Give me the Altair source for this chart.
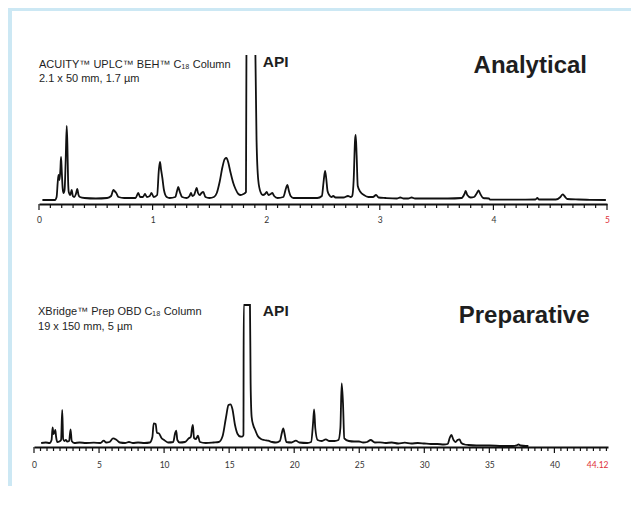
import altair as alt
import pandas as pd

# ---------------- data ----------------
# Analytical run: retention time (min) and detector signal (arbitrary units)
top_time = [0.03, 0.14, 0.155, 0.165, 0.172, 0.18, 0.188, 0.194, 0.200, 0.208, 0.215, 0.225, 0.235, 0.244,
            0.250, 0.256, 0.262, 0.275, 0.288, 0.298, 0.31, 0.325, 0.337, 0.348, 0.36, 0.40, 0.50, 0.60,
            0.635, 0.655, 0.665, 0.68, 0.70, 0.75, 0.85, 0.874, 0.89, 0.915, 0.933, 0.95, 0.975, 0.99,
            1.01, 1.04, 1.055, 1.065, 1.075, 1.086, 1.10, 1.124, 1.15, 1.20, 1.215, 1.226, 1.24, 1.26,
            1.30, 1.325, 1.338, 1.35, 1.365, 1.38, 1.388, 1.40, 1.415, 1.43, 1.446, 1.465, 1.50, 1.54,
            1.565, 1.59, 1.615, 1.635, 1.65, 1.665, 1.685, 1.71, 1.73, 1.755, 1.775, 1.80, 1.822, 1.826,
            1.865, 1.905, 1.915, 1.93, 1.95, 1.97, 1.99, 2.004, 2.02, 2.04, 2.054, 2.07, 2.10, 2.15,
            2.175, 2.186, 2.20, 2.215, 2.24, 2.35, 2.45, 2.49, 2.505, 2.518, 2.528, 2.54, 2.555, 2.575,
            2.59, 2.61, 2.68, 2.72, 2.745, 2.757, 2.77, 2.782, 2.788, 2.796, 2.806, 2.83, 2.86, 2.90,
            2.94, 2.967, 2.99, 3.05, 3.15, 3.18, 3.21, 3.25, 3.28, 3.31, 3.45, 3.60, 3.72, 3.745, 3.756,
            3.77, 3.80, 3.83, 3.855, 3.87, 3.885, 3.91, 3.96, 3.97, 4.20, 4.37, 4.387, 4.40, 4.55, 4.59,
            4.61, 4.625, 4.65, 4.75, 4.85, 4.99]
top_signal = [0, 0, 3, 18, 25, 20, 30, 43, 30, 12, 7, 10, 40, 74,
              55, 20, 8, 5, 10, 4, 3, 6, 11, 5, 3, 2, 1.5, 2,
              4, 10, 9, 7, 3, 2, 2, 7, 3, 3, 6, 3, 4, 7,
              3, 5, 30, 38, 30, 22, 10, 3, 2, 3, 9, 13, 8, 3,
              2, 4, 7, 4, 5, 10, 12, 7, 5, 7, 8, 3, 2, 3,
              7, 18, 33, 41, 42, 38, 28, 17, 11, 6, 5, 6, 8, 145,
              None, 145, 60, 20, 8, 5, 6, 8, 5, 6, 7, 4, 2, 3,
              12, 15, 9, 4, 2, 2, 2, 4, 18, 29, 22, 9, 5, 3,
              4, 2.5, 2.5, 4, 3, 4, 20, 60, 65, 45, 14, 8, 5, 3,
              3, 5, 2.5, 2, 1.5, 2.5, 1.5, 1.5, 2.5, 1.5, 1.5, 1.5, 2, 6, 9,
              5, 2.5, 3, 7, 9.5, 6, 2, 1.5, 0.3, 0.3, 0.5, 2, 0.5, 0.5, 3,
              5.7, 4, 1, 0.5, 0.2, 0]

# Preparative run
bottom_time = [0.55, 0.9, 1.2, 1.35, 1.43, 1.5, 1.58, 1.64, 1.7, 1.79, 1.95, 2.08, 2.17, 2.24, 2.35, 2.45,
               2.55, 2.7, 2.81, 2.9, 3.1, 3.5, 4.0, 4.6, 5.1, 5.36, 5.55, 5.8, 6.08, 6.35, 6.6, 7.0, 7.3,
               7.6, 8.0, 8.5, 8.9, 9.1, 9.2, 9.35, 9.45, 9.6, 9.8, 10.0, 10.3, 10.7, 10.85, 10.93, 11.02,
               11.2, 11.6, 11.9, 12.05, 12.15, 12.21, 12.3, 12.45, 12.6, 12.75, 13.2, 13.8, 14.2, 14.5,
               14.75, 14.95, 15.1, 15.25, 15.45, 15.65, 15.85, 16.0, 16.1, 16.12, 16.6, 16.65, 16.73,
               16.85, 17.0, 17.2, 17.45, 17.7, 18.0, 18.3, 18.6, 18.9, 19.05, 19.16, 19.25, 19.4, 19.8,
               20.13, 20.4, 21.0, 21.3, 21.45, 21.53, 21.62, 21.8, 22.1, 22.43, 22.7, 23.1, 23.4, 23.55,
               23.65, 23.75, 23.85, 24.2, 24.6, 24.98, 25.3, 25.6, 25.88, 26.2, 26.6, 27.0, 27.5, 28.0,
               28.5, 29.0, 29.5, 30.0, 30.5, 31.0, 31.5, 31.8, 31.95, 32.08, 32.25, 32.4, 32.55, 32.7,
               32.85, 33.1, 33.4, 34.0, 35.0, 36.0, 36.8, 37.1, 37.24, 37.4, 37.8, 38.0]
bottom_signal = [0, 0.5, 0, 3, 15.7, 9, 11, 13, 6, 1, 1.5, 3, 33, 4, 2, 3,
                 1.5, 2, 13.7, 2, 0, 0.5, 0, 0.3, 0, 2.3, 0.5, 1, 4.7, 3, 0.5, 0, 1,
                 0, 0.5, 0, 0.5, 6, 19.7, 19, 10, 9.7, 5, 3, 0.5, 1, 10, 12.3, 3,
                 0.5, 1, 4.7, 6, 15, 18, 5, 4, 7.3, 1, 0, 0.5, 1, 7,
                 25, 38, 38.7, 34, 18, 9, 6.5, 6.3, 8, 138, 138, 60, 26,
                 18, 13, 7, 4, 3, 2.3, 1, 0.5, 2, 10, 14.7, 10, 1, 0.5,
                 2.3, 0.5, 0, 1, 20, 33.7, 15, 3, 2, 3.7, 2, 2, 3, 15,
                 59.7, 40, 4.7, 2, 1.5, 1.5, 0.5, 1, 3, 0.5, 0.7, 0, 0.5, -0.5,
                 0.3, -0.5, 0, -0.5, -1, -1, -1.5, -1, 5, 8, 3, 1, 3, 3.7,
                 0, -1.5, -2, -2.5, -2.5, -3, -3, -2.3, -1.5, -2.5, -3, -3]

# axis ticks
top_major = [0, 1, 2, 3, 4, 5]
top_minor = [round(i * 0.1, 1) for i in range(51) if i % 10 != 0]
bottom_major = [0, 5, 10, 15, 20, 25, 30, 35, 40]
bottom_minor = [i * 0.5 for i in range(89) if i % 10 != 0]
bottom_labels = bottom_major + [44.12]

top_df = pd.DataFrame({"t": top_time, "s": top_signal})
bottom_df = pd.DataFrame({"t": bottom_time, "s": bottom_signal})

INK = "#111111"
TEXT = "#1e1e1e"
RED = "#e0303a"
FONT = "Liberation Sans"
W = 619


def make_axis(values, last_value, offset, pad, align_last):
    return alt.Axis(
        values=values,
        ticks=False,
        tickSize=0,
        labelExpr="'' + datum.value",
        labelColor={"condition": {"test": f"datum.value === {last_value}", "value": RED}, "value": "#333333"},
        labelAlign={"condition": {"test": f"datum.value === {last_value}", "value": align_last}, "value": "center"},
        domainColor=INK,
        domainWidth=2,
        labelFont="Lato",
        labelFontSize=8.5,
        labelPadding=pad,
        labelOverlap=False,
        labelFlush=False,
        grid=False,
        title=None,
        offset=offset,
    )


def tick_layer(values, xs, axis, y0, length):
    df = pd.DataFrame({"t": values})
    return alt.Chart(df).mark_rule(color=INK, strokeWidth=1.2).encode(
        x=alt.X("t:Q", scale=xs, axis=axis),
        y=alt.value(y0),
        y2=alt.value(y0 + length),
    )


def label(text, x, y, xs, ys, size, bold=False, align="left"):
    return alt.Chart().mark_text(
        text=text, align=align, baseline="alphabetic", fontSize=size,
        font=FONT, fontWeight="bold" if bold else "normal", color=TEXT,
    ).encode(x=alt.datum(x, scale=xs), y=alt.datum(y, scale=ys))


# ---------------- analytical panel ----------------
tx = alt.Scale(domain=[0, 5], range=[27, 595], nice=False, zero=False)
ty = alt.Scale(domain=[0, 145], range=[189, 44], nice=False, zero=False)
top_axis_y = 193
top_axis = make_axis(top_major, 5, top_axis_y - 247, 11, "center")

top_line = alt.Chart(top_df).mark_line(
    color=INK, strokeWidth=1.8, interpolate="monotone", invalid="break-paths-filter-domains"
).encode(
    x=alt.X("t:Q", scale=tx, axis=top_axis),
    y=alt.Y("s:Q", scale=ty, axis=None),
)

top = alt.layer(
    top_line,
    tick_layer(top_minor, tx, top_axis, top_axis_y, 4),
    tick_layer(top_major, tx, top_axis, top_axis_y, 6),
    label("ACUITY™ UPLC™ BEH™ C₁₈ Column", 0.0, 132, tx, ty, 11),
    label("2.1 x 50 mm, 1.7 µm", 0.0, 118, tx, ty, 11),
    label("API", 1.97, 133, tx, ty, 15.5, bold=True),
    label("Analytical", 4.824, 127, tx, ty, 24, bold=True, align="right"),
).properties(width=W, height=247)

# ---------------- preparative panel ----------------
bx = alt.Scale(domain=[0, 44.12], range=[22, 596], nice=False, zero=False)
by = alt.Scale(domain=[0, 138], range=[185, 47], nice=False, zero=False)
bottom_axis_y = 189
bottom_axis = make_axis(bottom_labels, 44.12, bottom_axis_y - 228, 13, "right")

bottom_line = alt.Chart(bottom_df).mark_line(
    color=INK, strokeWidth=1.8, interpolate="monotone"
).encode(
    x=alt.X("t:Q", scale=bx, axis=bottom_axis),
    y=alt.Y("s:Q", scale=by, axis=None),
)

bottom = alt.layer(
    bottom_line,
    tick_layer(bottom_minor, bx, bottom_axis, bottom_axis_y, 4),
    tick_layer(bottom_major, bx, bottom_axis, bottom_axis_y, 6),
    label("XBridge™ Prep OBD C₁₈ Column", 0.31, 128, bx, by, 11),
    label("19 x 150 mm, 5 µm", 0.31, 113, bx, by, 11),
    label("API", 17.59, 127, bx, by, 15.5, bold=True),
    label("Preparative", 42.70, 120, bx, by, 24, bold=True, align="right"),
).properties(width=W, height=228)

chart = alt.vconcat(top, bottom, spacing=0).resolve_scale(x="independent", y="independent").configure(
    background="#cce8f4",
    padding={"left": 4, "top": 3, "right": 0, "bottom": 0},
).configure_view(fill="white", stroke=None)

chart.save("out.html", embed_options={"renderer": "svg", "actions": False})
